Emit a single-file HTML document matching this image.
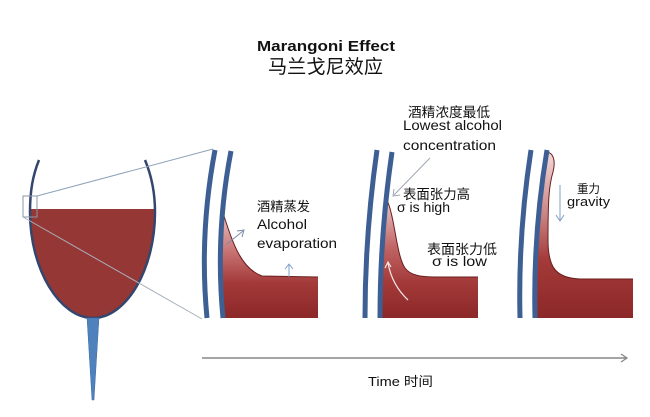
<!DOCTYPE html>
<html><head><meta charset="utf-8">
<style>
html,body{margin:0;padding:0;background:#fff;}
svg{display:block;}
text{font-family:"Liberation Sans","Noto Sans CJK SC",sans-serif;fill:#111;}
</style></head>
<body>
<svg width="650" height="417" viewBox="0 0 650 417" xmlns="http://www.w3.org/2000/svg">
<defs>
<linearGradient id="g1" x1="0" y1="200" x2="0" y2="318" gradientUnits="userSpaceOnUse">
<stop offset="0" stop-color="#f4dcdc"/>
<stop offset="0.45" stop-color="#c67070"/>
<stop offset="0.7" stop-color="#a43a3a"/>
<stop offset="1" stop-color="#8c2828"/>
</linearGradient>
<linearGradient id="g2" x1="0" y1="190" x2="0" y2="318" gradientUnits="userSpaceOnUse">
<stop offset="0" stop-color="#f4dcdc"/>
<stop offset="0.45" stop-color="#c06464"/>
<stop offset="0.72" stop-color="#a43a3a"/>
<stop offset="1" stop-color="#8c2828"/>
</linearGradient>
<linearGradient id="g3" x1="0" y1="150" x2="0" y2="318" gradientUnits="userSpaceOnUse">
<stop offset="0" stop-color="#f4dcdc"/>
<stop offset="0.4" stop-color="#c88080"/>
<stop offset="0.65" stop-color="#a43a3a"/>
<stop offset="1" stop-color="#8c2828"/>
</linearGradient>
</defs>

<!-- Title -->
<text x="257" y="51" font-size="15" font-weight="bold" textLength="138" lengthAdjust="spacingAndGlyphs">Marangoni Effect</text>
<text x="268" y="73" font-size="19" textLength="115" lengthAdjust="spacingAndGlyphs">马兰戈尼效应</text>

<!-- Glass -->
<path d="M30,209 L155,209 C155,270 126,318 93,318 C60,318 30,270 30,212 Z" fill="#953735"/>
<path d="M39,160 C33,175 30,190 30,212 C30,270 60,318 93,318 C126,318 155,270 155,212 C155,190 150,172 145,160" fill="none" stroke="#34466e" stroke-width="2.5"/>
<polygon points="87,318 99,318 94,400 92,400" fill="#4f81bd" stroke="#3a6aa5" stroke-width="0.5"/>

<!-- zoom indicator -->
<rect x="23" y="196" width="14" height="21" fill="none" stroke="#8a97a8" stroke-width="1"/>
<line x1="37" y1="196" x2="213" y2="149" stroke="#8fa2ba" stroke-width="1"/>
<line x1="23" y1="217" x2="202" y2="319" stroke="#a8b0bc" stroke-width="1"/>

<!-- Panel 1 -->
<path d="M224,216 C232,240 240,268 262,276 L318,277 L318,318 L222,318 Q219,270 224,216 Z" fill="url(#g1)"/>
<path d="M224,216 C232,240 240,268 262,276 L318,277" fill="none" stroke="#6a1e1e" stroke-width="1"/>
<path d="M215,150 Q199,234 207,318" fill="none" stroke="#3d5f93" stroke-width="5"/>
<path d="M231,151 Q215,234 223,318" fill="none" stroke="#3d5f93" stroke-width="5"/>
<line x1="227" y1="244" x2="243" y2="231" stroke="#7a8aa6" stroke-width="1"/>
<polyline points="237,231 244,230 242,237" fill="none" stroke="#7a8aa6" stroke-width="1"/>
<line x1="289" y1="277" x2="289" y2="265" stroke="#7f9fc8" stroke-width="1"/>
<polyline points="285,269 289,264 293,269" fill="none" stroke="#7f9fc8" stroke-width="1"/>
<text x="257" y="211" font-size="13" textLength="53" lengthAdjust="spacingAndGlyphs">酒精蒸发</text>
<text x="257" y="229" font-size="14" textLength="50" lengthAdjust="spacingAndGlyphs">Alcohol</text>
<text x="257" y="248" font-size="14" textLength="80" lengthAdjust="spacingAndGlyphs">evaporation</text>

<!-- Panel 2 -->
<path d="M386,198 C395,215 396,255 405,268 C410,275 420,277 435,277 L478,277 L478,318 L381,318 Q377,260 386,198 Z" fill="url(#g2)"/>
<path d="M386,198 C395,215 396,255 405,268 C410,275 420,277 435,277 L478,277" fill="none" stroke="#6a1e1e" stroke-width="1"/>
<path d="M377,150 Q365,234 365,318" fill="none" stroke="#3d5f93" stroke-width="5"/>
<path d="M392,152 Q380,234 380,318" fill="none" stroke="#3d5f93" stroke-width="5"/>
<path d="M408,300 Q392,285 388,263" fill="none" stroke="#f4e6e6" stroke-width="1.2"/>
<polyline points="385,268 388,262 391,267" fill="none" stroke="#f4e6e6" stroke-width="1.2"/>
<line x1="430" y1="158" x2="394" y2="195" stroke="#a0a8b4" stroke-width="1"/>
<polyline points="394,189 393,196 400,195" fill="none" stroke="#a0a8b4" stroke-width="1"/>
<text x="408" y="117" font-size="13.5" textLength="82" lengthAdjust="spacingAndGlyphs">酒精浓度最低</text>
<text x="403" y="130" font-size="14" textLength="99" lengthAdjust="spacingAndGlyphs">Lowest alcohol</text>
<text x="403" y="150" font-size="14" textLength="93" lengthAdjust="spacingAndGlyphs">concentration</text>
<text x="403" y="199" font-size="13.5" textLength="67" lengthAdjust="spacingAndGlyphs">表面张力高</text>
<text x="397" y="212" font-size="14" textLength="53" lengthAdjust="spacingAndGlyphs">σ is high</text>
<text x="427" y="254" font-size="13.5" textLength="70" lengthAdjust="spacingAndGlyphs">表面张力低</text>
<text x="432" y="266" font-size="14" textLength="55" lengthAdjust="spacingAndGlyphs">σ is low</text>

<!-- Panel 3 -->
<path d="M547,152 C553,153 556,160 553,172 C549,185 548,200 548,240 C548,268 556,278 580,279 L633,279 L633,318 L536,318 Q532,240 545,152 Z" fill="url(#g3)"/>
<path d="M547,152 C553,153 556,160 553,172 C549,185 548,200 548,240 C548,268 556,278 580,279 L633,279" fill="none" stroke="#6a1e1e" stroke-width="1"/>
<path d="M531,150 Q518,234 520,318" fill="none" stroke="#3d5f93" stroke-width="5"/>
<path d="M547,150 Q533,234 535,318" fill="none" stroke="#3d5f93" stroke-width="5"/>
<line x1="560" y1="185" x2="560" y2="220" stroke="#7f9fc8" stroke-width="1"/>
<polyline points="556,215 560,221 564,215" fill="none" stroke="#7f9fc8" stroke-width="1"/>
<text x="577" y="193" font-size="12" textLength="23" lengthAdjust="spacingAndGlyphs">重力</text>
<text x="567" y="206" font-size="13" textLength="43" lengthAdjust="spacingAndGlyphs">gravity</text>

<!-- Time axis -->
<line x1="202" y1="358" x2="627" y2="358" stroke="#858585" stroke-width="1.5"/>
<polyline points="621,354 627,358 621,362" fill="none" stroke="#858585" stroke-width="1.2"/>
<text x="368" y="386" font-size="13" textLength="65" lengthAdjust="spacingAndGlyphs">Time 时间</text>
</svg>
</body></html>
